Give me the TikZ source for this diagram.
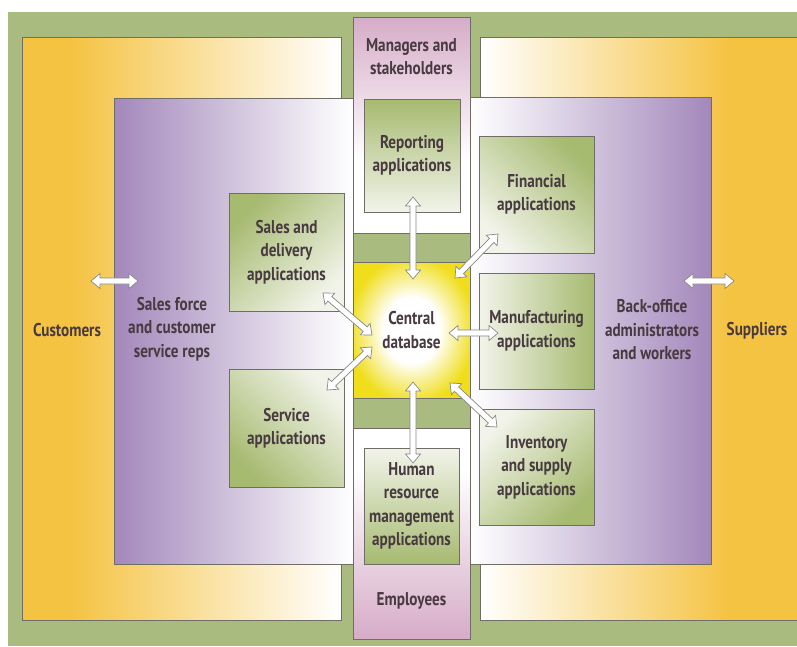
\documentclass[tikz,border=0pt]{standalone}
\usepackage{fontspec}
\setmainfont[FakeStretch=0.82]{PT Sans}
\usetikzlibrary{calc}
\definecolor{bggreen}{RGB}{170,187,128}
\definecolor{appgreen}{RGB}{166,186,112}
\definecolor{applight}{RGB}{242,244,234}
\definecolor{orng}{RGB}{245,195,66}
\definecolor{purp}{RGB}{163,136,187}
\definecolor{pinkc}{RGB}{214,172,200}
\definecolor{yel}{RGB}{240,222,28}
\definecolor{txtc}{RGB}{72,58,64}
\definecolor{bordc}{RGB}{112,108,102}
\definecolor{arrgray}{RGB}{135,135,135}
\pgfdeclareradialshading{dbglow}{\pgfpoint{0bp}{0bp}}{color(0bp)=(white); color(12bp)=(white); color(27bp)=(yel); color(50bp)=(yel)}
\newcommand\arrHL{9pt}
\newcommand\arrHW{7.5pt}
\newcommand\arrSW{3pt}
\tikzset{
  bord/.style={draw=bordc, line width=0.8pt},
  lbl/.style={font=\fontsize{18.5}{23.5}\selectfont\bfseries, text=txtc, align=center, inner sep=0pt},
  appbox/.style={bord, lbl, shade, shading=axis, top color=appgreen, bottom color=applight},
  dblarrow/.style={draw=arrgray, fill=white, line width=0.7pt, line join=miter,
    to path={
      -- ($(\tikztostart)!\arrHL!(\tikztotarget)!\arrHW!90:(\tikztotarget)$)
      -- ($(\tikztostart)!\arrHL!(\tikztotarget)!\arrSW!90:(\tikztotarget)$)
      -- ($(\tikztotarget)!\arrHL!(\tikztostart)!\arrSW!-90:(\tikztostart)$)
      -- ($(\tikztotarget)!\arrHL!(\tikztostart)!\arrHW!-90:(\tikztostart)$)
      -- (\tikztotarget)
      -- ($(\tikztotarget)!\arrHL!(\tikztostart)!\arrHW!90:(\tikztostart)$)
      -- ($(\tikztotarget)!\arrHL!(\tikztostart)!\arrSW!90:(\tikztostart)$)
      -- ($(\tikztostart)!\arrHL!(\tikztotarget)!\arrSW!-90:(\tikztotarget)$)
      -- ($(\tikztostart)!\arrHL!(\tikztotarget)!\arrHW!-90:(\tikztotarget)$)
      -- cycle}}
}
\begin{document}
\begin{tikzpicture}[x=1pt, y=-1pt]
\useasboundingbox (0,0) rectangle (797,646);
\fill[white] (0,0) rectangle (797,646);
% background
\fill[bggreen] (8,12) rectangle (797,646);
% left orange zone
\fill[orng] (22,37) rectangle (341,620);
\shade[left color=orng, right color=white] (70,37) rectangle (341,620);
\draw[bord] (22,37) rectangle (341,620);
% right orange zone
\fill[orng] (480,37) rectangle (805,620);
\shade[left color=white, right color=orng] (480,37) rectangle (730,620);
\draw[bord] (805,37) -- (480,37) -- (480,620) -- (805,620);
% left purple zone
\shade[left color=purp, right color=white, bord] (114,98) rectangle (353,564);
% right purple zone
\shade[left color=white, right color=purp, bord] (470,97) rectangle (711,564);
% center column
\fill[bggreen] (353,17) rectangle (470,639);
\fill[white] (353,17) rectangle (470,233);
\shade[top color=pinkc, bottom color=white] (353,17) rectangle (470,160);
\draw[bord] (353,17) rectangle (470,233);
\fill[white] (353,428) rectangle (470,639);
\shade[top color=white, bottom color=pinkc] (353,470) rectangle (470,639);
\draw[bord] (353,428) rectangle (470,639);
\draw[bord] (353,17) rectangle (470,639);
% central database
\node[bord, lbl, shading=dbglow, minimum width=117pt, minimum height=136pt] (db) at (411.5,330) {Central\\database};
% application boxes
\node[appbox, shading angle=45, minimum width=115pt, minimum height=118pt] (sales) at (286.5,252) {Sales and\\delivery\\applications};
\node[appbox, shading angle=135, minimum width=115pt, minimum height=118pt] (service) at (286.5,428) {Service\\applications};
\node[appbox, shading angle=0, minimum width=96pt, minimum height=113pt] (rep) at (412,155.5) {Reporting\\applications};
\node[appbox, shading angle=180, minimum width=95pt, minimum height=116pt] (hr) at (411.5,506) {Human\\resource\\management\\applications};
\node[appbox, shading angle=-45, minimum width=115pt, minimum height=117pt] (fin) at (536.5,194.5) {Financial\\applications};
\node[appbox, shading angle=-90, minimum width=115pt, minimum height=116pt] (manu) at (536.5,331) {Manufacturing\\applications};
\node[appbox, shading angle=-135, minimum width=115pt, minimum height=116pt] (inv) at (536.5,467) {Inventory\\and supply\\applications};
% zone labels
\node[lbl] (customers) at (67,330) {Customers};
\node[lbl] (salesforce) at (172,329) {Sales force\\and customer\\service reps};
\node[lbl] (backoffice) at (652,330) {Back-office\\administrators\\and workers};
\node[lbl] (suppliers) at (757,331) {Suppliers};
\node[lbl] (managers) at (411.5,56.5) {Managers and\\stakeholders};
\node[lbl] (employees) at (411.5,601) {Employees};
% arrow end points
\coordinate (cA1) at (91,281);  \coordinate (cA2) at (138,281);
\coordinate (sA1) at (684,281); \coordinate (sA2) at (734,281);
\coordinate (rA1) at (413,197); \coordinate (rA2) at (413,279);
\coordinate (fA1) at (455,278); \coordinate (fA2) at (498,234);
\coordinate (dA1) at (323,293); \coordinate (dA2) at (372,335);
\coordinate (vA1) at (327,390); \coordinate (vA2) at (372,347);
\coordinate (mA1) at (449,333); \coordinate (mA2) at (498,333);
\coordinate (hA1) at (413,382); \coordinate (hA2) at (413,463);
\coordinate (iA1) at (450,383); \coordinate (iA2) at (497,427);
% arrows
\draw[dblarrow] (cA1) to (cA2);
\draw[dblarrow] (sA1) to (sA2);
\draw[dblarrow] (rA1) to (rA2);
\draw[dblarrow] (fA1) to (fA2);
\draw[dblarrow] (dA1) to (dA2);
\draw[dblarrow] (vA1) to (vA2);
\draw[dblarrow] (mA1) to (mA2);
\draw[dblarrow] (hA1) to (hA2);
\draw[dblarrow] (iA1) to (iA2);
\end{tikzpicture}
\end{document}
